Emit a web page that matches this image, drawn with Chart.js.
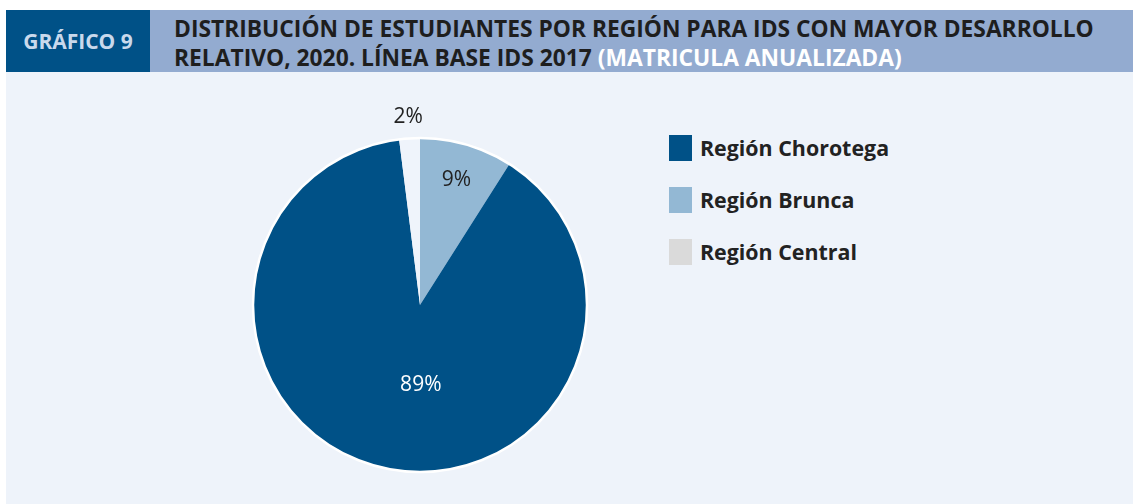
<!DOCTYPE html>
<html>
<head>
<meta charset="utf-8">
<script src="https://cdn.jsdelivr.net/npm/chart.js@4"></script>
<style>
  body { margin: 0; background: #fff; font-family: "Open Sans", sans-serif; }
  #panel { position: absolute; left: 6px; top: 10px; width: 1127px; height: 494px; background: #eef3fa; }
  #tag { position: absolute; left: 0; top: 0; width: 144px; height: 62px; background: #005187;
         color: #c9d9ec; font-weight: 700; font-size: 21px; line-height: 62px; text-align: center; }
  #head { position: absolute; left: 144px; top: 0; right: 0; height: 62px; background: #93abd0; }
  #title { position: absolute; left: 24px; top: 4px; color: #1e1e1e; font-weight: 700; font-size: 22.8px; line-height: 29px; white-space: nowrap; }
  #title span { color: #fff; }
  #chartBox { position: absolute; left: 204px; top: 85px; width: 420px; height: 420px; }
  #legend { position: absolute; left: 663px; top: 125px; }
  .item { height: 52px; display: flex; align-items: flex-start; }
  .sw { width: 23px; height: 26px; margin-right: 8px; }
  .lab { font-weight: 700; font-size: 21.4px; color: #222; line-height: 26px; }
</style>
</head>
<body>
<div id="panel">
  <div id="tag">GRÁFICO 9</div>
  <div id="head"><div id="title">DISTRIBUCIÓN DE ESTUDIANTES POR REGIÓN PARA IDS CON MAYOR DESARROLLO<br>RELATIVO, 2020. LÍNEA BASE IDS 2017 <span>(MATRICULA ANUALIZADA)</span></div></div>
  <div id="chartBox"><canvas id="pie" width="420" height="420"></canvas></div>
  <div id="legend"></div>
</div>
<script>
// Slices in drawing order (clockwise from 12 o'clock)
const regions = ['Región Brunca', 'Región Chorotega', 'Región Central'];
const shares = [9, 89, 2];
const sliceColors = ['#93b8d4', '#005187', '#eff4fb'];

// Legend order and swatches
const legendOrder = ['Región Chorotega', 'Región Brunca', 'Región Central'];
const legendColors = ['#005187', '#93b8d4', '#dadada'];

// Build legend
const legendEl = document.getElementById('legend');
legendOrder.forEach((name, i) => {
    const row = document.createElement('div');
    row.className = 'item';
    row.innerHTML = '<div class="sw" style="background:' + legendColors[i] + '"></div><div class="lab">' + name + '</div>';
    legendEl.appendChild(row);
});

// Percentage labels + white outer rim
const pieExtras = {
    id: 'pieExtras',
    afterDatasetDraw(chart) {
        const ctx = chart.ctx;
        const meta = chart.getDatasetMeta(0);
        const first = meta.data[0];
        ctx.save();
        ctx.beginPath();
        ctx.arc(first.x, first.y, first.outerRadius, 0, Math.PI * 2);
        ctx.strokeStyle = '#ffffff';
        ctx.lineWidth = 2.5;
        ctx.stroke();

        // label distance (fraction of radius) and angle nudge (radians) per slice
        const radial = [0.78, 0.48, 1.13];
        const nudge = [0, -0.23, 0];
        const textColors = ['#222', '#fff', '#222'];
        ctx.font = '21px "Open Sans"';
        ctx.textAlign = 'center';
        ctx.textBaseline = 'middle';
        meta.data.forEach((arc, i) => {
            const mid = (arc.startAngle + arc.endAngle) / 2 + nudge[i];
            const r = arc.outerRadius * radial[i];
            ctx.fillStyle = textColors[i];
            ctx.fillText(shares[i] + '%', arc.x + Math.cos(mid) * r, arc.y + Math.sin(mid) * r);
        });
        ctx.restore();
    }
};

new Chart(document.getElementById('pie').getContext('2d'), {
    type: 'pie',
    data: {
        labels: regions,
        datasets: [{
            data: shares,
            backgroundColor: sliceColors,
            borderWidth: 0
        }]
    },
    options: {
        responsive: false,
        animation: false,
        layout: { padding: 43 },
        plugins: {
            legend: { display: false },
            tooltip: { enabled: false }
        }
    },
    plugins: [pieExtras]
});
</script>
</body>
</html>
